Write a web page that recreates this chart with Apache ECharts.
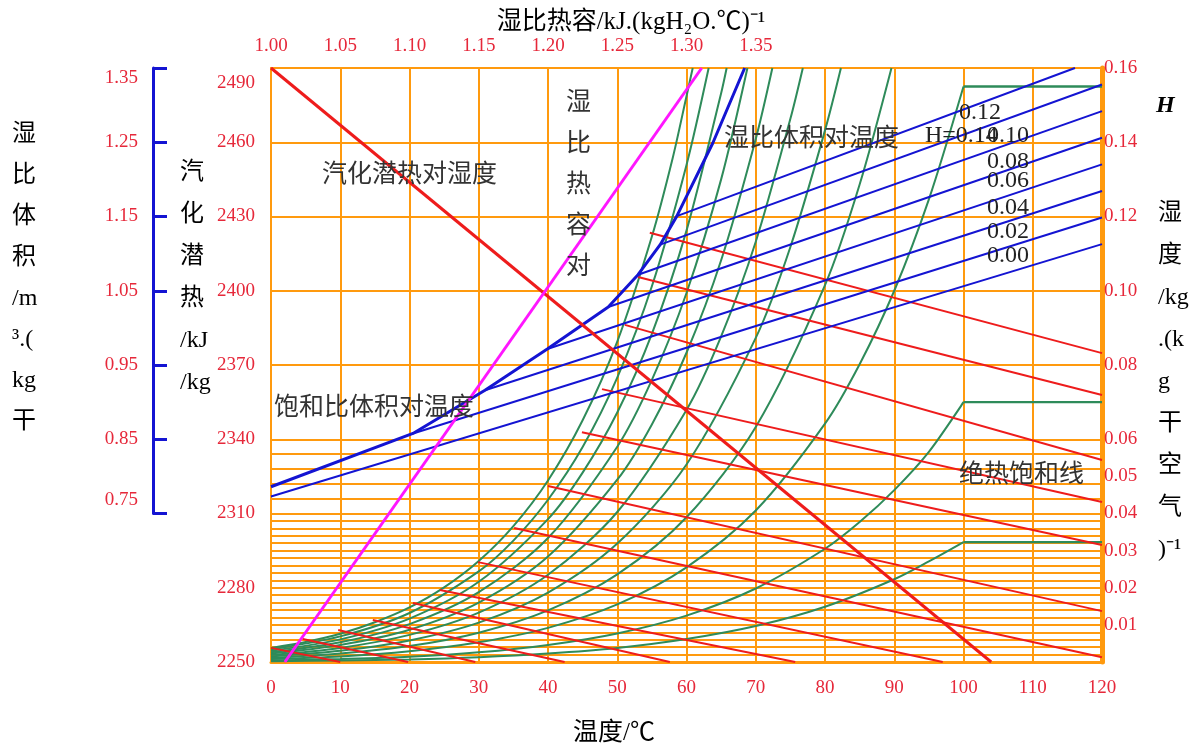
<!DOCTYPE html>
<html>
<head>
<meta charset="utf-8">
<script src="https://cdn.jsdelivr.net/npm/echarts@6/dist/echarts.min.js"></script>
<style>
html,body{margin:0;padding:0;background:#fff;}
#c{width:1199px;height:746px;}
</style>
</head>
<body>
<div id="c"></div>
<script>
// ---- axis ticks ----
const tempTicks = [0, 10, 20, 30, 40, 50, 60, 70, 80, 90, 100, 110, 120];
const heatTicks = ['1.00', '1.05', '1.10', '1.15', '1.20', '1.25', '1.30', '1.35'];
const latentTicks = [2250, 2280, 2310, 2340, 2370, 2400, 2430, 2460, 2490];
const humidityTicks = ['0.01', '0.02', '0.03', '0.04', '0.05', '0.06', '0.08', '0.10', '0.12', '0.14', '0.16'];
const volumeTicks = ['0.75', '0.85', '0.95', '1.05', '1.15', '1.25', '1.35'];

// extra horizontal rulings on the latent-heat scale (kJ/kg)
const latentMinor = [2253, 2256, 2259, 2262, 2265, 2268, 2271, 2274, 2277,
  2283, 2286, 2289, 2292, 2295, 2298, 2301, 2304, 2307,
  2316, 2322, 2328, 2334];

// latent heat of vaporisation vs temperature  [t, r]
const latentHeat = [[0, 2490], [104, 2250]];

// humid heat vs humidity  [cH, H]
const humidHeat = [[1.01, 0], [1.311, 0.16]];

// saturated specific volume vs temperature  [t, v]
const satVolume = [[0, 0.786], [20.5, 0.8578], [30.9, 0.9159], [39.9, 0.9715], [48.7, 1.0282],
  [53.0, 1.0716], [56.2, 1.1121], [58.6, 1.1505], [63.8, 1.249], [68.4, 1.35]];

// humid volume lines, one per humidity H  [t, v]
const volumeLabels = ['0.00', '0.02', '0.04', '0.06', '0.08', '0.10', '0.12', '0.14'];
const volH000 = [[0, 0.773], [120, 1.1128]];
const volH002 = [[20.5, 0.8578], [120, 1.1486]];
const volH004 = [[30.9, 0.9159], [120, 1.1844]];
const volH006 = [[39.9, 0.9715], [120, 1.2202]];
const volH008 = [[48.7, 1.0282], [120, 1.2560]];
const volH010 = [[53.0, 1.0716], [120, 1.2919]];
const volH012 = [[56.2, 1.1121], [120, 1.3277]];
const volH014 = [[58.6, 1.1505], [116.1, 1.35]];

// relative humidity curves  [t, H]
const rh100 = [[0, 0.0038], [5, 0.0054], [10, 0.0076], [15, 0.0107], [20, 0.0147], [25, 0.0201], [30, 0.0272],
  [35, 0.0366], [40, 0.0489], [45, 0.0651], [50, 0.0863], [55, 0.1146], [58, 0.1357], [60, 0.1524], [60.9, 0.16]];
const rh90 = [[0, 0.0034], [10, 0.0069], [20, 0.0132], [30, 0.0244], [35, 0.0327], [40, 0.0437], [45, 0.0579],
  [50, 0.0766], [55, 0.1012], [60, 0.1339], [63.2, 0.16]];
const rh80 = [[0, 0.0030], [10, 0.0061], [20, 0.0117], [30, 0.0216], [40, 0.0385], [45, 0.0510], [50, 0.0672],
  [55, 0.0884], [60, 0.1162], [65, 0.1532], [65.8, 0.16]];
const rh70 = [[0, 0.0026], [10, 0.0053], [20, 0.0102], [30, 0.0188], [40, 0.0334], [50, 0.0580], [55, 0.0760],
  [60, 0.0994], [65, 0.1300], [68.8, 0.16]];
const rh60 = [[0, 0.0023], [10, 0.0046], [20, 0.0087], [30, 0.0160], [40, 0.0284], [50, 0.0491], [55, 0.0640],
  [60, 0.0833], [65, 0.1082], [70, 0.1409], [72.4, 0.16]];
const rh50 = [[0, 0.0019], [10, 0.0038], [20, 0.0073], [30, 0.0133], [40, 0.0235], [50, 0.0404], [60, 0.0679],
  [65, 0.0877], [70, 0.1132], [75, 0.1463], [76.8, 0.16]];
const rh40 = [[0, 0.0015], [10, 0.0030], [20, 0.0058], [30, 0.0106], [40, 0.0187], [50, 0.0319], [60, 0.0532],
  [70, 0.0873], [75, 0.1118], [80, 0.1432], [82.3, 0.16]];
const rh30 = [[0, 0.0011], [10, 0.0023], [20, 0.0043], [30, 0.0079], [40, 0.0139], [50, 0.0236], [60, 0.0390],
  [70, 0.0633], [80, 0.1015], [85, 0.1286], [89.6, 0.16]];
const rh20 = [[0, 0.0008], [10, 0.0015], [20, 0.0029], [30, 0.0053], [40, 0.0092], [50, 0.0155], [60, 0.0255],
  [70, 0.0408], [80, 0.0642], [85, 0.0802], [90, 0.1000], [95, 0.1246], [100, 0.1550], [120, 0.1550]];
const rh10 = [[0, 0.0004], [10, 0.0008], [20, 0.0014], [30, 0.0026], [40, 0.0046], [50, 0.0077], [60, 0.0125],
  [70, 0.0198], [80, 0.0305], [85, 0.0377], [90, 0.0463], [95, 0.0566], [100, 0.0700], [120, 0.0700]];
const rh5 = [[0, 0.0002], [10, 0.0004], [20, 0.0007], [30, 0.0013], [40, 0.0023], [50, 0.0038], [60, 0.0062],
  [70, 0.0097], [80, 0.0149], [90, 0.0223], [95, 0.0271], [100, 0.0323], [120, 0.0323]];

// adiabatic saturation lines  [t, H]
const adi00 = [[0.0, 0.0038], [10.0, 0]];
const adi05 = [[4.6, 0.0062], [19.8, 0]];
const adi10 = [[9.7, 0.0086], [29.5, 0]];
const adi15 = [[14.7, 0.0113], [42.4, 0]];
const adi20 = [[20.5, 0.0159], [57.6, 0]];
const adi25 = [[24.4, 0.0194], [75.7, 0]];
const adi30 = [[29.9, 0.0269], [97.0, 0]];
const adi35 = [[35.1, 0.0361], [120, 0.0013]];
const adi40 = [[40.0, 0.0474], [120, 0.0137]];
const adi45 = [[44.9, 0.0619], [120, 0.0315]];
const adi48 = [[47.8, 0.0735], [120, 0.0431]];
const adi51 = [[51.1, 0.0908], [120, 0.0544]];
const adi53 = [[53.0, 0.1037], [120, 0.0719]];
const adi55 = [[54.7, 0.1156], [120, 0.0832]];

// ---- styling ----
const ORANGE = '#ff9a0e';
const TICK_RED = '#e6283a';
const GREEN = '#2e8b5a';
const BLUE = '#1414d2';
const RED = '#ee1c1c';
const MAGENTA = '#ff16ff';
const NUM_FONT = "'Liberation Serif', 'Times New Roman', serif";
const CJK = "'Noto Sans CJK SC', sans-serif";
const MIX = "'Liberation Serif', 'Noto Sans CJK SC', serif";

const chart = echarts.init(document.getElementById('c'));

function plainLine(data, color, width, xIdx, yIdx, smooth) {
  return {
    type: 'line', data: data, xAxisIndex: xIdx, yAxisIndex: yIdx,
    symbol: 'none', showSymbol: false, smooth: smooth || false,
    lineStyle: { color: color, width: width }, z: 5, silent: true
  };
}

const series = [];

// horizontal minor rulings
series.push({
  type: 'line', xAxisIndex: 0, yAxisIndex: 0, data: [],
  silent: true, z: 1,
  markLine: {
    silent: true, symbol: ['none', 'none'], label: { show: false },
    lineStyle: { color: ORANGE, width: 2, type: 'solid', opacity: 1 },
    emphasis: { disabled: true },
    data: latentMinor.map(v => ({ yAxis: v }))
  }
});

// relative humidity curves: smooth part up to 100 °C, flat beyond
[rh100, rh90, rh80, rh70, rh60, rh50, rh40, rh30, rh20, rh10, rh5].forEach(c => {
  const curve = c.filter(p => p[0] <= 100);
  const flat = c.filter(p => p[0] >= 100);
  series.push(plainLine(curve, GREEN, 2, 0, 1, 0.3));
  if (flat.length > 1) series.push(plainLine(flat, GREEN, 2.4, 0, 1, false));
});

// adiabatic saturation lines
[adi00, adi05, adi10, adi15, adi20, adi25, adi30, adi35, adi40, adi45, adi48, adi51, adi53, adi55]
  .forEach(l => series.push(plainLine(l, RED, 2, 0, 1, false)));

// humid volume lines
[volH000, volH002, volH004, volH006, volH008, volH010, volH012, volH014]
  .forEach(l => series.push(plainLine(l, BLUE, 2, 0, 2, false)));
series.push(plainLine(satVolume, BLUE, 3, 0, 2, false));

// latent heat and humid heat
series.push(plainLine(latentHeat, RED, 3, 0, 0, false));
series.push(plainLine(humidHeat, MAGENTA, 3, 1, 1, false));

// ---- annotation texts ----
function txt(x, y, text, size, opts) {
  const st = Object.assign({
    text: text, fill: '#000', fontSize: size, fontFamily: MIX,
    align: 'left', verticalAlign: 'middle',
    textAlign: 'left', textVerticalAlign: 'middle'
  }, opts || {});
  return { type: 'text', x: x, y: y, z: 100, silent: true, style: st };
}
function column(x, yTop, lines, size, lh, opts) {
  return lines.map((s, i) => txt(x, yTop + i * lh, s, size, opts));
}

const graphics = [];
// axis titles
graphics.push(txt(631, 22, '湿比热容/kJ.(kgH\u2082O.\u2103)\u207B\u00B9', 25, { align: 'center', textAlign: 'center' }));
graphics.push(txt(614, 733, '温度/\u2103', 25, { align: 'center', textAlign: 'center' }));
graphics.push(...column(12, 135, ['湿', '比', '体', '积', '/m', '\u00B3.(', 'kg', '干'], 24, 41));
graphics.push(...column(180, 173, ['汽', '化', '潜', '热', '/kJ', '/kg'], 24, 42));
graphics.push(txt(1156, 106, 'H', 24, { fontWeight: 'bold', fontStyle: 'italic', fontFamily: NUM_FONT }));
graphics.push(...column(1158, 214, ['湿', '度', '/kg', '.(k', 'g', '干', '空', '气', ')\u207B\u00B9'], 24, 42));

// curve captions
const capStyle = { fill: '#333', fontFamily: CJK };
graphics.push(txt(322, 172, '汽化潜热对湿度', 25, capStyle));
graphics.push(txt(724, 136, '湿比体积对温度', 25, capStyle));
graphics.push(txt(274, 405, '饱和比体积对温度', 25, capStyle));
graphics.push(txt(959, 472, '绝热饱和线', 25, capStyle));
graphics.push(...column(566, 100, ['湿', '比', '热', '容', '对'], 25, 41, capStyle));

// humidity values of the volume lines
const hLabelStyle = { fill: '#222', fontFamily: NUM_FONT };
graphics.push(txt(959, 113, volumeLabels[6], 24, hLabelStyle));
graphics.push(txt(925, 136, 'H=' + volumeLabels[7], 24, hLabelStyle));
graphics.push(txt(987, 136, volumeLabels[5], 24, hLabelStyle));
graphics.push(txt(987, 162, volumeLabels[4], 24, hLabelStyle));
graphics.push(txt(987, 181, volumeLabels[3], 24, hLabelStyle));
graphics.push(txt(987, 208, volumeLabels[2], 24, hLabelStyle));
graphics.push(txt(987, 232, volumeLabels[1], 24, hLabelStyle));
graphics.push(txt(987, 256, volumeLabels[0], 24, hLabelStyle));

const tickFont = { color: TICK_RED, fontFamily: NUM_FONT, fontSize: 19 };
const tickLabel = Object.assign({}, tickFont);
// end labels sit a little inside their tick
const shiftRich = {
  down30: Object.assign({ padding: [30, 0, 0, 0] }, tickFont),
  down20: Object.assign({ padding: [20, 0, 0, 0] }, tickFont),
  up26: Object.assign({ padding: [0, 0, 26, 0] }, tickFont)
};

chart.setOption({
  animation: false,
  backgroundColor: '#fff',
  grid: [
    { left: 271, top: 68, width: 831, height: 594, containLabel: false },
    { left: 153, top: 68, width: 10, height: 445.5, containLabel: false }
  ],
  xAxis: [
    {
      gridIndex: 0, type: 'value', position: 'bottom',
      min: tempTicks[0], max: tempTicks[tempTicks.length - 1], interval: 10,
      axisLine: { show: true, onZero: false, lineStyle: { color: ORANGE, width: 3 } },
      axisTick: { show: false },
      axisLabel: Object.assign({ margin: 17, formatter: v => String(v) }, tickLabel),
      splitLine: { show: true, lineStyle: { color: ORANGE, width: 2 } }
    },
    {
      gridIndex: 0, type: 'value', position: 'top',
      min: 1.0, max: 1.6, interval: 0.05,
      axisLine: { show: true, onZero: false, lineStyle: { color: ORANGE, width: 2 } },
      axisTick: { show: false },
      axisLabel: Object.assign({ margin: 12, showMaxLabel: true,
        formatter: v => heatTicks.includes(v.toFixed(2)) ? v.toFixed(2) : '' }, tickLabel),
      splitLine: { show: false }
    },
    { gridIndex: 1, type: 'value', min: 0, max: 1, show: false }
  ],
  yAxis: [
    {
      gridIndex: 0, type: 'value', position: 'left',
      min: latentTicks[0], max: latentTicks[latentTicks.length - 1], interval: 30,
      axisLine: { show: true, onZero: false, lineStyle: { color: ORANGE, width: 2 } },
      axisTick: { show: false },
      axisLabel: Object.assign({ margin: 16, rich: shiftRich,
        formatter: v => v === latentTicks[latentTicks.length - 1] ? '{down30|' + v + '}'
          : (latentTicks.includes(v) ? String(v) : '') }, tickLabel),
      splitLine: { show: true, lineStyle: { color: ORANGE, width: 2 } }
    },
    {
      gridIndex: 0, type: 'value', position: 'right',
      min: 0, max: 0.16, interval: 0.01,
      axisLine: { show: true, onZero: false, lineStyle: { color: ORANGE, width: 5 } },
      axisTick: { show: false },
      axisLabel: Object.assign({ margin: 2,
        formatter: v => humidityTicks.includes(v.toFixed(2)) ? v.toFixed(2) : '' }, tickLabel),
      splitLine: { show: false }
    },
    {
      gridIndex: 0, type: 'value', min: 0.55, max: 1.35, show: false
    },
    {
      gridIndex: 1, type: 'value', position: 'left',
      min: 0.75, max: 1.35, interval: 0.1,
      axisLine: { show: true, onZero: false, lineStyle: { color: BLUE, width: 3 } },
      axisTick: { show: true, inside: true, length: 14, lineStyle: { color: BLUE, width: 3 } },
      axisLabel: Object.assign({ margin: 15, rich: shiftRich,
        formatter: v => {
          const s = v.toFixed(2);
          if (!volumeTicks.includes(s)) return '';
          if (s === volumeTicks[volumeTicks.length - 1]) return '{down20|' + s + '}';
          if (s === volumeTicks[0]) return '{up26|' + s + '}';
          return s;
        } }, tickLabel),
      splitLine: { show: false }
    }
  ],
  series: series,
  graphic: { elements: graphics }
});
</script>
</body>
</html>
